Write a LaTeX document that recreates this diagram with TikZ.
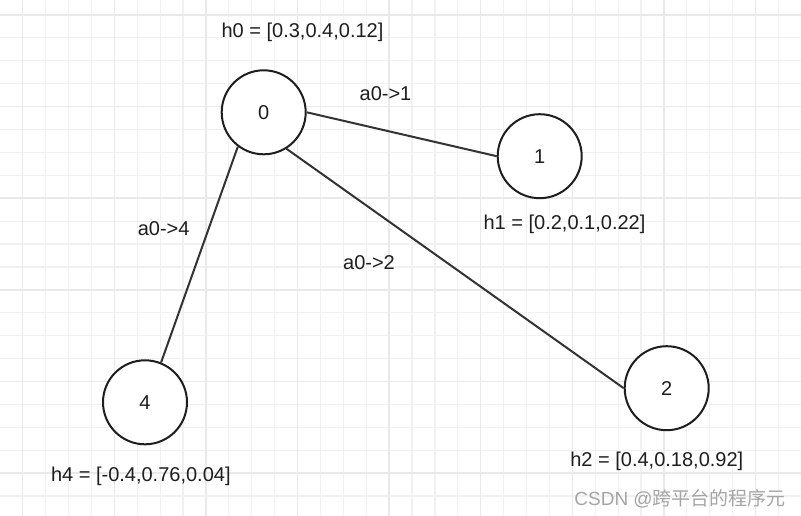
\documentclass[tikz,border=0pt]{standalone}
\usepackage{fontspec}
\setmainfont{Liberation Sans}
\newfontfamily\cjk{Noto Sans CJK SC}
\definecolor{gridminor}{RGB}{241,241,241}
\definecolor{gridmajor}{RGB}{233,233,233}
\definecolor{ink}{RGB}{30,30,30}
\definecolor{edgeink}{RGB}{51,51,51}
\definecolor{wmark}{RGB}{165,165,165}
\tikzset{
  vertex/.style={circle, draw=ink, line width=2pt, fill=white, minimum size=84pt, inner sep=0pt, font=\fontsize{20}{24}\selectfont, text=ink},
  lbl/.style={anchor=base, inner sep=0pt, font=\fontsize{20}{24}\selectfont, text=ink},
  link/.style={draw=edgeink, line width=2pt},
}
\begin{document}
\begin{tikzpicture}[x=1pt,y=-1pt]
\useasboundingbox (0,0) rectangle (801,516);
\fill[white] (0,0) rectangle (801,516);
\begin{scope}
\clip (0,0) rectangle (801,516);
\foreach \k in {0,...,35} {\draw[gridminor, line width=1.2pt] ({-0.2+22.9*\k},0) -- ({-0.2+22.9*\k},516);}
\foreach \k in {0,...,22} {\draw[gridminor, line width=1.2pt] (0,{15+22.9*\k}) -- (801,{15+22.9*\k});}
\foreach \k in {0,...,8} {\draw[gridmajor, line width=1.5pt] ({22.7+91.6*\k},0) -- ({22.7+91.6*\k},516);}
\foreach \k in {0,...,5} {\draw[gridmajor, line width=1.5pt] (0,{15+91.6*\k}) -- (801,{15+91.6*\k});}
\end{scope}

\node[vertex] (n0) at (263.7,112.3) {0};
\node[vertex] (n1) at (539.7,156.2) {1};
\node[vertex] (n2) at (666.7,388.2) {2};
\node[vertex] (n4) at (145,402.3) {4};

\draw[link] (n0.east) -- (n1.west);
\draw[link] (n0.-58) -- (n2.west);
\draw[link] (n0.-127) -- (n4.68);

\node[lbl] (h0) at (302.5,37.3) {h0 = [0.3,0.4,0.12]};
\node[lbl] (h1) at (564.5,229.3) {h1 = [0.2,0.1,0.22]};
\node[lbl] (h2) at (656.8,466.7) {h2 = [0.4,0.18,0.92]};
\node[lbl] (h4) at (140.8,481) {h4 = [-0.4,0.76,0.04]};
\node[lbl] (e1) at (385.5,100.7) {a0->1};
\node[lbl] (e2) at (369,269.3) {a0->2};
\node[lbl] (e4) at (163.7,236) {a0->4};
\node[anchor=base east, inner sep=0pt, text=wmark, font=\fontsize{19}{22}\selectfont] (wm) at (786,505) {CSDN @{\cjk 跨平台的程序元}};
\end{tikzpicture}
\end{document}
